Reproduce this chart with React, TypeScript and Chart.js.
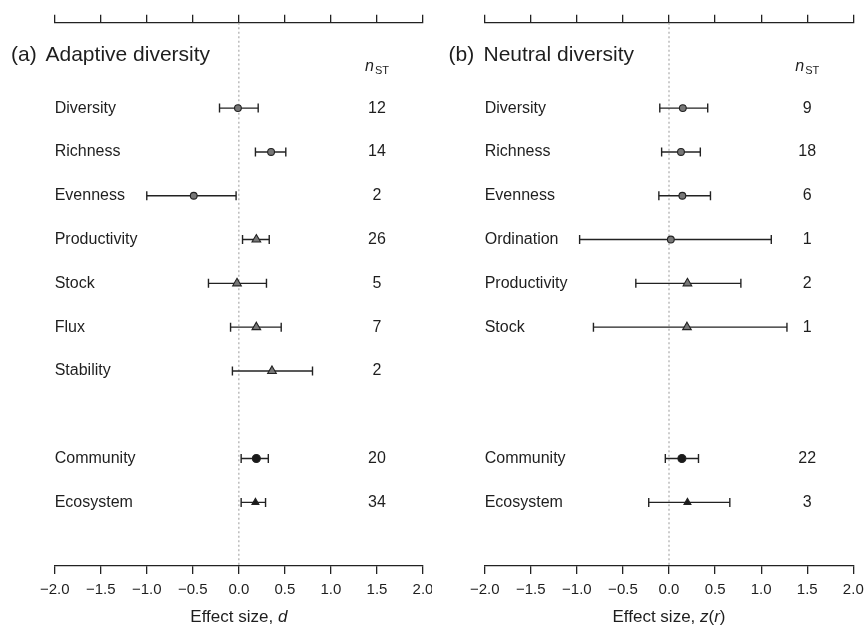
import React, { useEffect, useRef } from 'react';
import { Chart, registerables } from 'chart.js';

Chart.register(...registerables);

const FONT = '"Liberation Sans", Arial, Helvetica, sans-serif';

// ---------- Panel (a): Adaptive diversity ----------
const labelsA = ['Diversity', 'Richness', 'Evenness', 'Productivity', 'Stock', 'Flux', 'Stability', 'Community', 'Ecosystem'];
const rowsA = [0, 1, 2, 3, 4, 5, 6, 8, 9];
const estA = [-0.01, 0.35, -0.49, 0.19, -0.02, 0.19, 0.36, 0.19, 0.18];
const lowA = [-0.21, 0.18, -1.0, 0.04, -0.33, -0.09, -0.07, 0.025, 0.025];
const highA = [0.21, 0.51, -0.03, 0.33, 0.3, 0.46, 0.8, 0.32, 0.29];
const nA = [12, 14, 2, 26, 5, 7, 2, 20, 34];
const markerA = ['circle', 'circle', 'circle', 'triangle', 'triangle', 'triangle', 'triangle', 'circleFilled', 'triangleFilled'];

// ---------- Panel (b): Neutral diversity ----------
const labelsB = ['Diversity', 'Richness', 'Evenness', 'Ordination', 'Productivity', 'Stock', 'Community', 'Ecosystem'];
const rowsB = [0, 1, 2, 3, 4, 5, 8, 9];
const estB = [0.15, 0.13, 0.145, 0.02, 0.2, 0.195, 0.14, 0.2];
const lowB = [-0.1, -0.08, -0.11, -0.97, -0.36, -0.82, -0.04, -0.22];
const highB = [0.42, 0.34, 0.45, 1.11, 0.78, 1.28, 0.32, 0.66];
const nB = [9, 18, 6, 1, 2, 1, 22, 3];
const markerB = ['circle', 'circle', 'circle', 'circle', 'triangle', 'triangle', 'circleFilled', 'triangleFilled'];

const xTicks = [-2, -1.5, -1, -0.5, 0, 0.5, 1, 1.5, 2];

type Part = [string, boolean];

interface PanelCfg {
  tag: string;
  title: string;
  labels: string[];
  rows: number[];
  est: number[];
  low: number[];
  high: number[];
  n: number[];
  markers: string[];
  axisTitle: Part[];
  padLeft: number;
  padRight: number;
  tagX: number;
  titleX: number;
}

const panelA: PanelCfg = {
  tag: '(a)', title: 'Adaptive diversity', labels: labelsA, rows: rowsA, est: estA, low: lowA, high: highA, n: nA,
  markers: markerA, axisTitle: [['Effect size, ', false], ['d', true]],
  padLeft: 54.7, padRight: 9, tagX: 11, titleX: 45.5,
};
const panelB: PanelCfg = {
  tag: '(b)', title: 'Neutral diversity', labels: labelsB, rows: rowsB, est: estB, low: lowB, high: highB, n: nB,
  markers: markerB, axisTitle: [['Effect size, ', false], ['z', true], ['(', false], ['r', true], [')', false]],
  padLeft: 52.7, padRight: 10.7, tagX: 16.5, titleX: 51.5,
};

function markerStyle(m: string) {
  switch (m) {
    case 'circle': return { style: 'circle', r: 3.4, bg: '#777777' };
    case 'triangle': return { style: 'triangle', r: 5, bg: '#777777' };
    case 'circleFilled': return { style: 'circle', r: 4, bg: '#1a1a1a' };
    default: return { style: 'triangle', r: 4, bg: '#1a1a1a' };
  }
}

function drawRich(ctx: CanvasRenderingContext2D, parts: Part[], cx: number, y: number, size: number) {
  const fontOf = (it: boolean) => `${it ? 'italic ' : ''}${size}px ${FONT}`;
  let total = 0;
  parts.forEach(([t, it]) => { ctx.font = fontOf(it); total += ctx.measureText(t).width; });
  let x = cx - total / 2;
  ctx.textAlign = 'left';
  parts.forEach(([t, it]) => { ctx.font = fontOf(it); ctx.fillText(t, x, y); x += ctx.measureText(t).width; });
}

function makeTextPlugin(p: PanelCfg) {
  return {
    id: 'panelText',
    afterDraw(chart: any) {
      const ctx: CanvasRenderingContext2D = chart.ctx;
      const xs = chart.scales.x;
      const ys = chart.scales.y;
      const area = chart.chartArea;
      ctx.save();
      ctx.fillStyle = '#1e1e1e';
      ctx.textBaseline = 'middle';
      ctx.font = `16px ${FONT}`;
      p.labels.forEach((l, i) => {
        const y = ys.getPixelForValue(p.rows[i]);
        ctx.textAlign = 'left';
        ctx.fillText(l, xs.getPixelForValue(-2), y);
        ctx.textAlign = 'center';
        ctx.fillText(String(p.n[i]), xs.getPixelForValue(1.5), y);
      });
      // panel title
      ctx.textBaseline = 'alphabetic';
      ctx.textAlign = 'left';
      ctx.font = `21px ${FONT}`;
      ctx.fillText(p.tag, p.tagX, area.top + 38);
      ctx.fillText(p.title, p.titleX, area.top + 38);
      // n_ST header
      ctx.font = `italic 16px ${FONT}`;
      const wn = ctx.measureText('n').width;
      ctx.font = `11px ${FONT}`;
      const ws = ctx.measureText('ST').width;
      const cx = xs.getPixelForValue(1.5);
      const x0 = cx - (wn + ws + 1) / 2;
      ctx.font = `italic 16px ${FONT}`;
      ctx.fillText('n', x0, area.top + 48);
      ctx.font = `11px ${FONT}`;
      ctx.fillText('ST', x0 + wn + 1, area.top + 51.5);
      // axis title
      ctx.textBaseline = 'middle';
      drawRich(ctx, p.axisTitle, xs.getPixelForValue(0), area.bottom + 51.5, 17);
      ctx.restore();
    },
  };
}

function buildConfig(p: PanelCfg): any {
  const styles = p.markers.map(markerStyle);
  const points = p.est.map((v, i) => ({ x: v, y: p.rows[i] }));
  const errorSets = p.low.map((lo, i) => ({
    data: [{ x: lo, y: p.rows[i] }, { x: p.high[i], y: p.rows[i] }],
    showLine: true,
    borderColor: '#222',
    borderWidth: 1.4,
    pointStyle: 'line',
    rotation: 90,
    pointRadius: 4.5,
    pointBorderColor: '#222',
    pointBorderWidth: 1.4,
    pointBackgroundColor: '#222',
  }));
  const axisBase = {
    type: 'linear',
    min: -2,
    max: 2,
    afterBuildTicks: (scale: any) => { scale.ticks = xTicks.map((v) => ({ value: v })); },
    afterFit: (scale: any) => { scale.paddingLeft = 0; scale.paddingRight = 0; },
    grid: { drawOnChartArea: false, drawTicks: true, tickLength: 8, color: '#222', lineWidth: 1.3 },
    border: { display: true, color: '#222', width: 1.3 },
  };
  return {
    type: 'scatter',
    data: {
      datasets: [
        {
          data: points,
          pointStyle: styles.map((s) => s.style),
          pointRadius: styles.map((s) => s.r),
          pointBackgroundColor: styles.map((s) => s.bg),
          pointBorderColor: '#222',
          pointBorderWidth: 1.1,
        },
        ...errorSets,
        {
          data: [{ x: 0, y: -1.95 }, { x: 0, y: 10.45 }],
          showLine: true,
          borderColor: '#aaaaaa',
          borderWidth: 1.2,
          borderDash: [2, 2.5],
          pointRadius: 0,
        },
      ],
    },
    options: {
      responsive: false,
      animation: false,
      events: [],
      layout: { padding: { left: p.padLeft, right: p.padRight, top: 14.7, bottom: 19.5 } },
      plugins: { legend: { display: false }, tooltip: { enabled: false } },
      scales: {
        x: {
          ...axisBase,
          position: 'bottom',
          ticks: {
            padding: 7.3,
            color: '#1e1e1e',
            font: { family: FONT, size: 15 },
            maxRotation: 0,
            autoSkip: false,
            callback: (v: number) => v.toFixed(1).replace('-', '\u2212'),
          },
        },
        x2: {
          ...axisBase,
          position: 'top',
          ticks: { display: false },
        },
        y: { type: 'linear', min: -1.95, max: 10.45, reverse: true, display: false },
      },
    },
    plugins: [makeTextPlugin(p)],
  };
}

function PanelChart({ panel }: { panel: PanelCfg }) {
  const ref = useRef<HTMLCanvasElement>(null);
  useEffect(() => {
    if (!ref.current) return;
    const chart = new Chart(ref.current, buildConfig(panel));
    return () => chart.destroy();
  }, [panel]);
  return <canvas ref={ref} width={432} height={626} style={{ display: 'block', width: 432, height: 626 }} />;
}

export default function App() {
  return (
    <div style={{ position: 'absolute', left: 0, top: 0, width: 864, height: 626, display: 'flex', background: '#fff' }}>
      <PanelChart panel={panelA} />
      <PanelChart panel={panelB} />
    </div>
  );
}
